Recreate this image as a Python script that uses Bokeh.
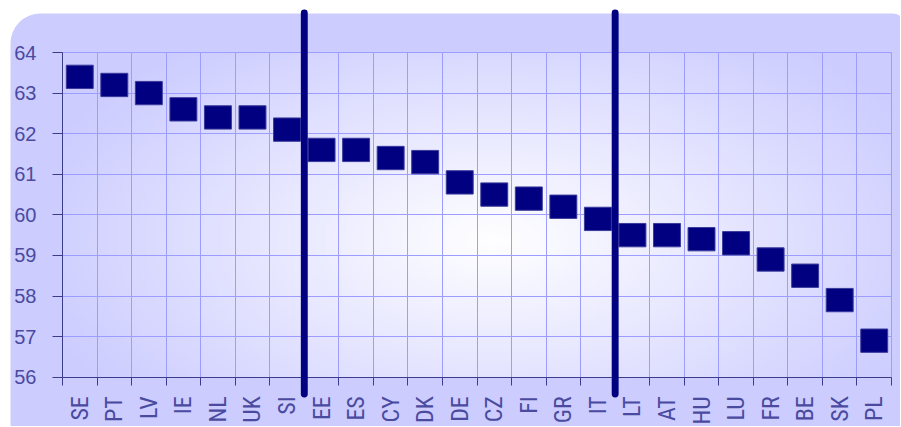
import numpy as np
from bokeh.plotting import figure
from bokeh.models import Range1d, FixedTicker, BoxAnnotation
from bokeh.embed import file_html
from bokeh.resources import INLINE

# ---- data ----
countries = ["SE", "PT", "LV", "IE", "NL", "UK", "SI", "EE", "ES", "CY", "DK", "DE",
             "CZ", "FI", "GR", "IT", "LT", "AT", "HU", "LU", "FR", "BE", "SK", "PL"]
values = [63.4, 63.2, 63.0, 62.6, 62.4, 62.4, 62.1, 61.6, 61.6, 61.4, 61.3, 60.8,
          60.5, 60.4, 60.2, 59.9, 59.5, 59.5, 59.4, 59.3, 58.9, 58.5, 57.9, 56.9]
y_ticks = [56, 57, 58, 59, 60, 61, 62, 63, 64]
group_starts = ["EE", "LT"]

# ---- styles ----
NAVY = "#000080"
LILAC = "#ccccff"
GRID = "#9d9dff"
AXIS = "#3c3c8c"
LABEL = "#4a4a9e"

# ---- layout (pixels) ----
FIG_W, FIG_H = 900, 426
PLOT_L, PLOT_R, PLOT_T, PLOT_B = 62.0, 891.0, 52.0, 376.7

xs = list(range(len(countries)))
x_lo, x_hi = -0.5, len(countries) - 0.5
y_lo, y_hi = y_ticks[0], y_ticks[-1]
sx = (PLOT_R - PLOT_L) / (x_hi - x_lo)
sy = (PLOT_B - PLOT_T) / (y_hi - y_lo)
xr = Range1d(x_lo - PLOT_L / sx, x_hi + (FIG_W - PLOT_R) / sx)
yr = Range1d(y_lo - (FIG_H - PLOT_B) / sy, y_hi + PLOT_T / sy)

p = figure(width=FIG_W, height=FIG_H, x_range=xr, y_range=yr,
           output_backend="svg", toolbar_location=None,
           min_border=0, min_border_left=0, min_border_right=0,
           min_border_top=0, min_border_bottom=0,
           border_fill_color="white", background_fill_color="white",
           outline_line_color=None)

# rounded lilac panel
bg = BoxAnnotation(left=10, right=906, top=13, bottom=440,
                   left_units="canvas", right_units="canvas",
                   top_units="canvas", bottom_units="canvas",
                   fill_color=LILAC, fill_alpha=1.0, line_color=None,
                   border_radius=(30, 14, 14, 14), level="image")
p.renderers.append(bg)

# soft radial light inside plotting area
W, H = 240, 96
gx = (np.arange(W) + 0.5) / W
gy = (np.arange(H) + 0.5) / H
X, Y = np.meshgrid(gx, gy)
t = np.clip(np.sqrt(((X - 0.52) / 0.58) ** 2 + ((Y - 0.42) / 0.78) ** 2), 0, 1)
rgba = np.zeros((H, W, 4), dtype=np.uint8)
rgba[..., 0] = (255 - 51 * t).astype(np.uint8)
rgba[..., 1] = (255 - 51 * t).astype(np.uint8)
rgba[..., 2] = 255
rgba[..., 3] = 255
img = rgba.view(dtype=np.uint32).reshape((H, W))
p.image_rgba(image=[img], x=x_lo, y=y_lo, dw=x_hi - x_lo, dh=y_hi - y_lo, level="image")

# markers
p.rect(x=xs, y=values, width=0.78, height=0.575,
       fill_color=NAVY, line_color="#3a3a9c", line_width=1)

# group dividers
for c in group_starts:
    b = countries.index(c) - 0.5
    p.add_layout(BoxAnnotation(left=b - 0.1, right=b + 0.1, top=9, bottom=397,
                               top_units="canvas", bottom_units="canvas",
                               fill_color=NAVY, fill_alpha=1.0, line_color=None,
                               border_radius=4, level="overlay"))

# y axis
yt = FixedTicker(ticks=y_ticks)
p.yaxis.ticker = yt
p.ygrid.ticker = yt
p.yaxis.fixed_location = x_lo
p.yaxis.bounds = (y_lo, y_hi)
p.yaxis.axis_line_color = AXIS
p.yaxis.major_tick_line_color = AXIS
p.yaxis.major_tick_out = 10
p.yaxis.major_tick_in = 0
p.yaxis.minor_tick_line_color = None
p.yaxis.major_label_text_font = "Liberation Sans"
p.yaxis.major_label_text_font_size = "20px"
p.yaxis.major_label_text_color = LABEL
p.yaxis.major_label_standoff = 16
p.ygrid.grid_line_color = GRID
p.ygrid.bounds = (y_lo, y_hi)
p.ygrid.cross_bounds = (x_lo, x_hi)

# x axis: labels at centres, ticks/grid at boundaries
xt = FixedTicker(ticks=xs, minor_ticks=[x - 0.5 for x in xs] + [x_hi])
p.xaxis.ticker = xt
p.xgrid.ticker = xt
p.xaxis.fixed_location = y_lo
p.xaxis.bounds = (x_lo, x_hi)
p.xaxis.major_label_overrides = {i: c for i, c in zip(xs, countries)}
p.xaxis.axis_line_color = AXIS
p.xaxis.major_tick_line_color = None
p.xaxis.major_tick_out = 0
p.xaxis.major_tick_in = 0
p.xaxis.minor_tick_line_color = AXIS
p.xaxis.minor_tick_out = 8
p.xaxis.minor_tick_in = 0
p.xaxis.major_label_orientation = np.pi / 2
p.xaxis.major_label_text_font = "Roboto Condensed, DejaVu Sans Condensed, Liberation Sans Narrow, Liberation Sans"
p.xaxis.major_label_text_font_size = "24px"
p.xaxis.major_label_text_color = LABEL
p.xaxis.major_label_standoff = 11
p.xgrid.grid_line_color = None
p.xgrid.minor_grid_line_color = GRID
p.xgrid.bounds = (x_lo, x_hi)
p.xgrid.cross_bounds = (y_lo, y_hi)

open("out.html", "w").write(file_html(p, INLINE))
